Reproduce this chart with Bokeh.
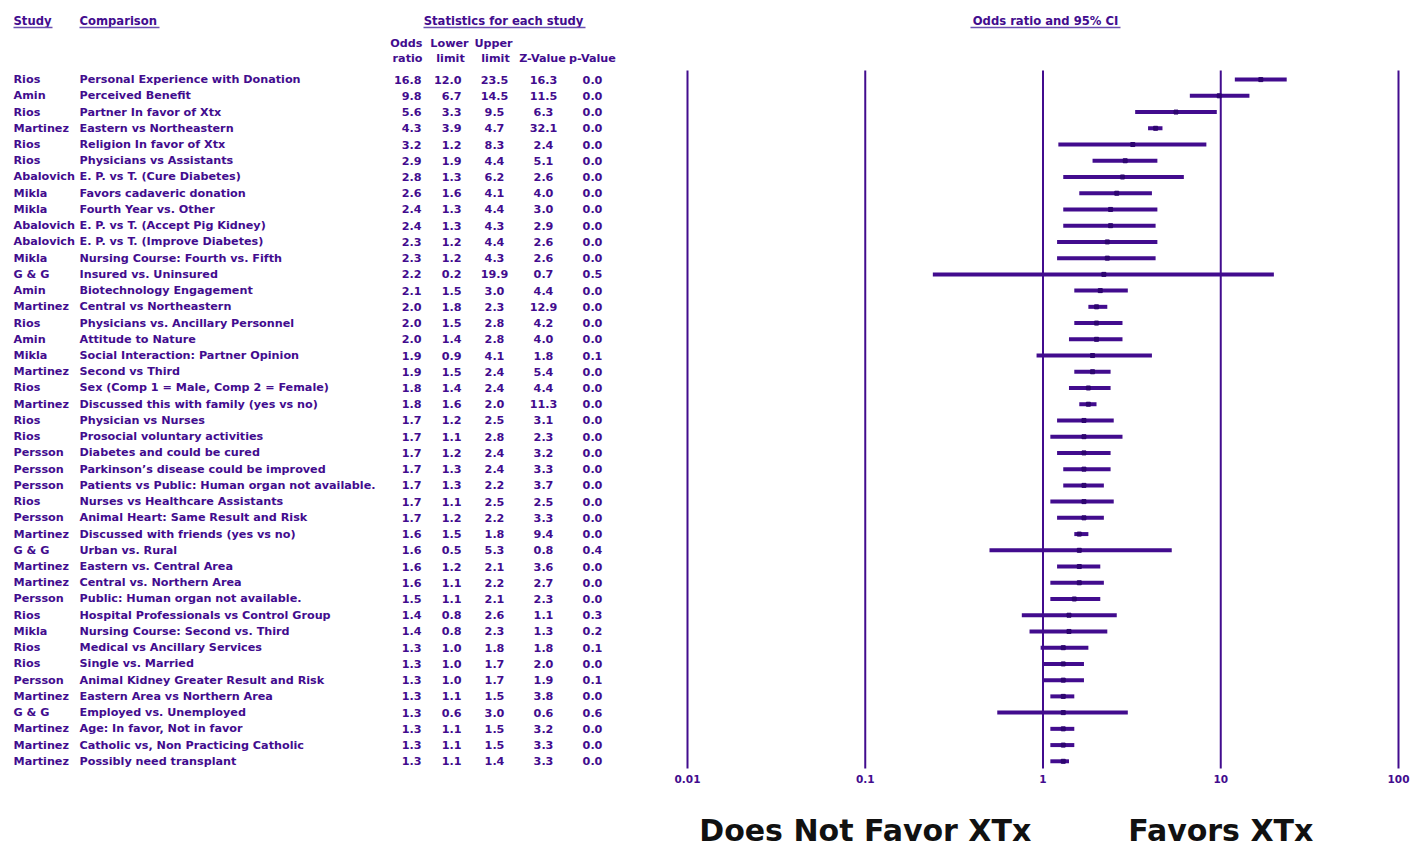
from bokeh.plotting import figure
from bokeh.layouts import row
from bokeh.models import Range1d, FixedTicker, LogAxis, CustomJSTickFormatter
from bokeh.core.properties import value
from bokeh.embed import file_html
from bokeh.resources import INLINE

# ---------------- data ----------------
studies = ["Rios", "Amin", "Rios", "Martinez", "Rios", "Rios", "Abalovich", "Mikla", "Mikla",
           "Abalovich", "Abalovich", "Mikla", "G & G", "Amin", "Martinez", "Rios", "Amin", "Mikla",
           "Martinez", "Rios", "Martinez", "Rios", "Rios", "Persson", "Persson", "Persson", "Rios",
           "Persson", "Martinez", "G & G", "Martinez", "Martinez", "Persson", "Rios", "Mikla", "Rios",
           "Rios", "Persson", "Martinez", "G & G", "Martinez", "Martinez", "Martinez"]
comparisons = [
    "Personal Experience with Donation", "Perceived Benefit", "Partner In favor of Xtx",
    "Eastern vs Northeastern", "Religion In favor of Xtx", "Physicians vs  Assistants",
    "E. P. vs T. (Cure Diabetes)", "Favors cadaveric donation", "Fourth Year vs. Other",
    "E. P. vs T. (Accept Pig Kidney)", "E. P. vs T.  (Improve Diabetes)",
    "Nursing Course: Fourth vs. Fifth", "Insured vs. Uninsured", "Biotechnology Engagement",
    "Central vs Northeastern", "Physicians vs. Ancillary Personnel", "Attitude to Nature",
    "Social Interaction: Partner Opinion", "Second vs Third",
    "Sex (Comp 1 = Male, Comp 2 = Female)", "Discussed this with family (yes vs no)",
    "Physician vs Nurses", "Prosocial voluntary activities", "Diabetes and could be cured",
    "Parkinson\u2019s disease could be improved", "Patients vs Public: Human organ not available.",
    "Nurses vs Healthcare Assistants", "Animal Heart: Same Result and Risk",
    "Discussed with friends (yes vs no)", "Urban vs. Rural", "Eastern vs. Central Area",
    "Central vs. Northern Area", "Public:  Human organ not available.",
    "Hospital Professionals vs Control Group", "Nursing Course: Second vs. Third",
    "Medical vs Ancillary Services", "Single vs. Married", "Animal Kidney Greater Result and Risk",
    "Eastern Area vs Northern Area", "Employed vs.  Unemployed", "Age: In favor, Not in favor",
    "Catholic vs, Non Practicing Catholic", "Possibly need transplant"]
odds_ratio = [16.8, 9.8, 5.6, 4.3, 3.2, 2.9, 2.8, 2.6, 2.4, 2.4, 2.3, 2.3, 2.2, 2.1, 2.0, 2.0, 2.0,
              1.9, 1.9, 1.8, 1.8, 1.7, 1.7, 1.7, 1.7, 1.7, 1.7, 1.7, 1.6, 1.6, 1.6, 1.6, 1.5, 1.4,
              1.4, 1.3, 1.3, 1.3, 1.3, 1.3, 1.3, 1.3, 1.3]
lower_limit = [12.0, 6.7, 3.3, 3.9, 1.22, 1.9, 1.3, 1.6, 1.3, 1.3, 1.2, 1.2, 0.24, 1.5, 1.8, 1.5, 1.4,
               0.92, 1.5, 1.4, 1.6, 1.2, 1.1, 1.2, 1.3, 1.3, 1.1, 1.2, 1.5, 0.5, 1.2, 1.1, 1.1, 0.76,
               0.84, 0.97, 1.0, 1.0, 1.1, 0.553, 1.1, 1.1, 1.1]
upper_limit = [23.5, 14.5, 9.5, 4.7, 8.3, 4.4, 6.2, 4.1, 4.4, 4.3, 4.4, 4.3, 19.9, 3.0, 2.3, 2.8, 2.8,
               4.1, 2.4, 2.4, 2.0, 2.5, 2.8, 2.4, 2.4, 2.2, 2.5, 2.2, 1.8, 5.3, 2.1, 2.2, 2.1, 2.6,
               2.3, 1.8, 1.7, 1.7, 1.5, 3.0, 1.5, 1.5, 1.4]
z_value = [16.3, 11.5, 6.3, 32.1, 2.4, 5.1, 2.6, 4.0, 3.0, 2.9, 2.6, 2.6, 0.7, 4.4, 12.9, 4.2, 4.0,
           1.8, 5.4, 4.4, 11.3, 3.1, 2.3, 3.2, 3.3, 3.7, 2.5, 3.3, 9.4, 0.8, 3.6, 2.7, 2.3, 1.1,
           1.3, 1.8, 2.0, 1.9, 3.8, 0.6, 3.2, 3.3, 3.3]
p_value = [0.0, 0.0, 0.0, 0.0, 0.0, 0.0, 0.0, 0.0, 0.0, 0.0, 0.0, 0.0, 0.5, 0.0, 0.0, 0.0, 0.0,
           0.1, 0.0, 0.0, 0.0, 0.0, 0.0, 0.0, 0.0, 0.0, 0.0, 0.0, 0.0, 0.4, 0.0, 0.0, 0.0, 0.3,
           0.2, 0.1, 0.0, 0.1, 0.0, 0.6, 0.0, 0.0, 0.0]
axis_ticks = [0.01, 0.1, 1, 10, 100]
axis_tick_labels = ["0.01", "0.1", "1", "10", "100"]
side_ticks = [0.1, 10]
side_labels = ["Does Not Favor XTx", "Favors XTx"]

# ---------------- style / layout ----------------
C = "#420c8e"
UL = "#6a4fb0"
FONTNAME = "DejaVu Sans"
FONT = value(FONTNAME)
FS = "11.2px"
H = 850
ROW0, DY = 79.0, 16.21
LW, RW = 648, 763
DEC = 177.75
FRAME_B = 768   # bottom of the plot frames (page px)


def ry(py):
    return (py - ROW0) / DY


rows = list(range(len(studies)))
yr = Range1d(start=ry(FRAME_B), end=ry(0))

# ---------------- left: table ----------------
left = figure(width=LW, height=H, x_range=Range1d(0, LW), y_range=yr,
              x_axis_location=None, y_axis_location=None, min_border=0,
              output_backend="svg", toolbar_location=None)
left.grid.visible = False
left.outline_line_color = None


def txt(fig, x, y, t, align="left", size=FS, color=C):
    fig.text(x=x, y=y, text=t, text_font=FONT, text_font_style="bold",
             text_font_size=size, text_color=color, text_align=align,
             text_baseline="middle")


TS = "11.6px"
txt(left, [13], [ry(20)], ["Study"], size=TS)
txt(left, [79], [ry(20)], ["Comparison"], size=TS)
txt(left, [503], [ry(20)], ["Statistics for each study"], align="center", size=TS)
left.segment(x0=[13, 79, 423], y0=[ry(27)] * 3, x1=[52, 159, 585], y1=[ry(27)] * 3,
             line_color=UL, line_width=1.5)

txt(left, [422], [ry(43)], ["Odds"], align="right")
txt(left, [422], [ry(58)], ["ratio"], align="right")
txt(left, [449], [ry(43)], ["Lower"], align="center")
txt(left, [450], [ry(58)], ["limit"], align="center")
txt(left, [493], [ry(43)], ["Upper"], align="center")
txt(left, [495], [ry(58)], ["limit"], align="center")
txt(left, [542], [ry(58)], ["Z-Value"], align="center")
txt(left, [592], [ry(58)], ["p-Value"], align="center")

txt(left, [13] * len(rows), rows, studies)
txt(left, [79] * len(rows), rows, comparisons)
fmt = lambda v: ["%.1f" % a for a in v]
txt(left, [421] * len(rows), rows, fmt(odds_ratio), align="right")
txt(left, [461] * len(rows), rows, fmt(lower_limit), align="right")
txt(left, [494] * len(rows), rows, fmt(upper_limit), align="center")
txt(left, [543] * len(rows), rows, fmt(z_value), align="center")
txt(left, [592] * len(rows), rows, fmt(p_value), align="center")

# ---------------- right: forest ----------------
def px2x(px):
    return 10 ** ((px - 687) / DEC - 2)


right = figure(width=RW, height=H, x_axis_type="log",
               x_range=Range1d(px2x(LW), px2x(LW + RW)), y_range=yr,
               x_axis_location=None, y_axis_location=None, min_border=0,
               output_backend="svg", toolbar_location=None)
right.grid.visible = False
right.outline_line_color = None

ax = LogAxis(ticker=FixedTicker(ticks=axis_ticks, minor_ticks=[]),
             formatter=CustomJSTickFormatter(args=dict(t=axis_ticks, l=axis_tick_labels),
                                             code="const i = t.indexOf(tick); return i >= 0 ? l[i] : '';"),
             axis_line_color=None, major_tick_line_color=None, minor_tick_line_color=None,
             major_label_standoff=-1, major_label_text_font=FONTNAME,
             major_label_text_font_style="bold", major_label_text_font_size="10.5px",
             major_label_text_color=C)
right.add_layout(ax, "below")
ax2 = LogAxis(ticker=FixedTicker(ticks=side_ticks, minor_ticks=[]),
              formatter=CustomJSTickFormatter(args=dict(t=side_ticks, l=side_labels),
                                              code="const i = t.indexOf(tick); return i >= 0 ? l[i] : '';"),
              axis_line_color=None, major_tick_line_color=None, minor_tick_line_color=None,
              major_label_standoff=21, major_label_text_font=FONTNAME,
              major_label_text_font_style="bold", major_label_text_font_size="30px",
              major_label_text_color="#111111")
right.add_layout(ax2, "below")

right.segment(x0=axis_ticks, y0=[ry(70)] * 5, x1=axis_ticks, y1=[ry(767)] * 5,
              line_color=C, line_width=2)
right.segment(x0=lower_limit, y0=rows, x1=upper_limit, y1=rows, line_color=C, line_width=4)
right.scatter(x=odds_ratio, y=rows, marker="square", size=4, color="#2e0570")

txt(right, [px2x(1045)], [ry(20)], ["Odds ratio and 95% CI"], align="center", size=TS)
right.segment(x0=[px2x(970)], y0=[ry(27)], x1=[px2x(1120)], y1=[ry(27)],
              line_color=UL, line_width=1.5)

layout = row(left, right, spacing=0)
open("out.html", "w").write(file_html(layout, INLINE))
